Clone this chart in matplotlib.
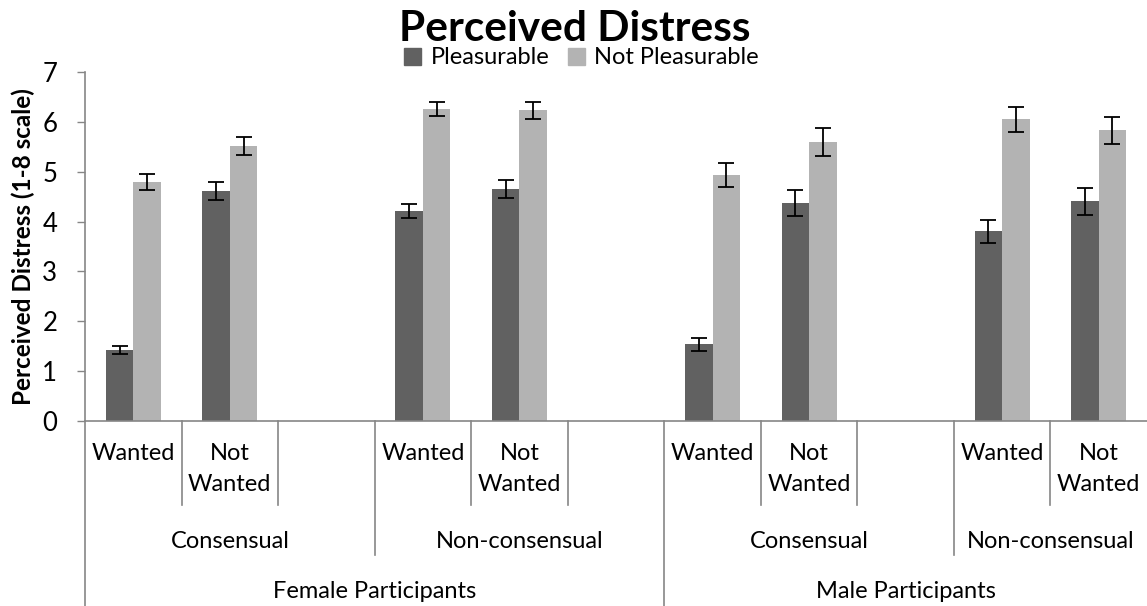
import matplotlib
matplotlib.use("Agg")
from matplotlib import pyplot as plt
from matplotlib.patches import Patch
from matplotlib.lines import Line2D
from matplotlib.transforms import blended_transform_factory

plt.rcParams["font.family"] = ["Lato", "DejaVu Sans"]

# slot labels along the x axis (empty slots act as spacers)
conditions = ["Wanted", "Not\nWanted", "", "Wanted", "Not\nWanted", "",
              "Wanted", "Not\nWanted", "", "Wanted", "Not\nWanted"]
consent_groups = [("Consensual", 0, 2), ("Non-consensual", 3, 5),
                  ("Consensual", 6, 8), ("Non-consensual", 9, 10)]
participant_groups = [("Female Participants", 0, 5), ("Male Participants", 6, 10)]

# slots that hold bars
bar_slots = [0, 1, 3, 4, 6, 7, 9, 10]

pleasurable = [1.42, 4.61, 4.21, 4.65, 1.54, 4.38, 3.81, 4.41]
pleasurable_err = [0.08, 0.175, 0.145, 0.175, 0.13, 0.26, 0.23, 0.27]
not_pleasurable = [4.79, 5.52, 6.26, 6.23, 4.93, 5.59, 6.05, 5.83]
not_pleasurable_err = [0.155, 0.18, 0.145, 0.175, 0.245, 0.28, 0.25, 0.27]

W, H = 1147, 606
DARK = "#616161"
LIGHT = "#b3b3b3"
AXIS = "#868686"


def fy(px):
    # pixel row from top -> figure fraction
    return 1 - px / H


fig = plt.figure(figsize=(W / 100, H / 100), dpi=100)
ax = fig.add_axes([85 / W, fy(421), (1147 - 85) / W, (421 - 72) / H])

bw = 0.285
xs_dark = [s - bw / 2 for s in bar_slots]
xs_light = [s + bw / 2 for s in bar_slots]

ax.bar(xs_dark, pleasurable, bw, color=DARK, zorder=2)
ax.bar(xs_light, not_pleasurable, bw, color=LIGHT, zorder=2)
ax.errorbar(xs_dark, pleasurable, yerr=pleasurable_err, fmt="none",
            ecolor="black", elinewidth=1.3, capsize=6, capthick=1.3, zorder=3)
ax.errorbar(xs_light, not_pleasurable, yerr=not_pleasurable_err, fmt="none",
            ecolor="black", elinewidth=1.3, capsize=6, capthick=1.3, zorder=3)

ax.set_xlim(-0.5, len(conditions) - 0.5)
ax.set_ylim(0, 7)
ax.set_yticks(range(0, 8))
ax.tick_params(axis="y", direction="out", length=6, width=1, color=AXIS,
               labelsize=18.5, pad=14)
ax.set_xticks([])
for side in ["top", "right"]:
    ax.spines[side].set_visible(False)
ax.spines["left"].set_color(AXIS)
ax.spines["bottom"].set_color(AXIS)
ax.spines["left"].set_linewidth(1.2)
ax.spines["bottom"].set_linewidth(1.2)

ax.set_ylabel("Perceived Distress (1-8 scale)", fontsize=17.5, fontweight="bold",
              labelpad=5)

# multi-level category axis
trans = blended_transform_factory(ax.transData, fig.transFigure)

def vline(x, bottom_px):
    fig.add_artist(Line2D([x, x], [fy(421), fy(bottom_px)], transform=trans,
                          color=AXIS, linewidth=1.2, clip_on=False))

for i, label in enumerate(conditions):
    ax.text(i, fy(443), label, transform=trans, ha="center", va="top",
            fontsize=17, linespacing=1.6)

for b in [0.5, 1.5, 3.5, 4.5, 6.5, 7.5, 9.5]:
    vline(b, 505)
for b in [2.5, 8.5]:
    vline(b, 555)
for b in [-0.5, 5.5]:
    vline(b, 606)

for label, a, b in consent_groups:
    ax.text((a + b) / 2, fy(541), label, transform=trans, ha="center",
            va="center", fontsize=17)
for label, a, b in participant_groups:
    ax.text((a + b) / 2, fy(592), label, transform=trans, ha="center",
            va="center", fontsize=17)

fig.text(0.501, fy(29), "Perceived Distress", ha="center", va="center",
         fontsize=30.5, fontweight="bold")

handles = [Patch(color=DARK, label="Pleasurable"),
           Patch(color=LIGHT, label="Not Pleasurable")]
fig.legend(handles=handles, loc="center", bbox_to_anchor=(0.507, fy(58)),
           ncol=2, frameon=False, fontsize=17, handlelength=0.7,
           handleheight=0.7, handletextpad=0.4, columnspacing=0.8,
           borderpad=0)

fig.savefig("out.png", dpi=100)
